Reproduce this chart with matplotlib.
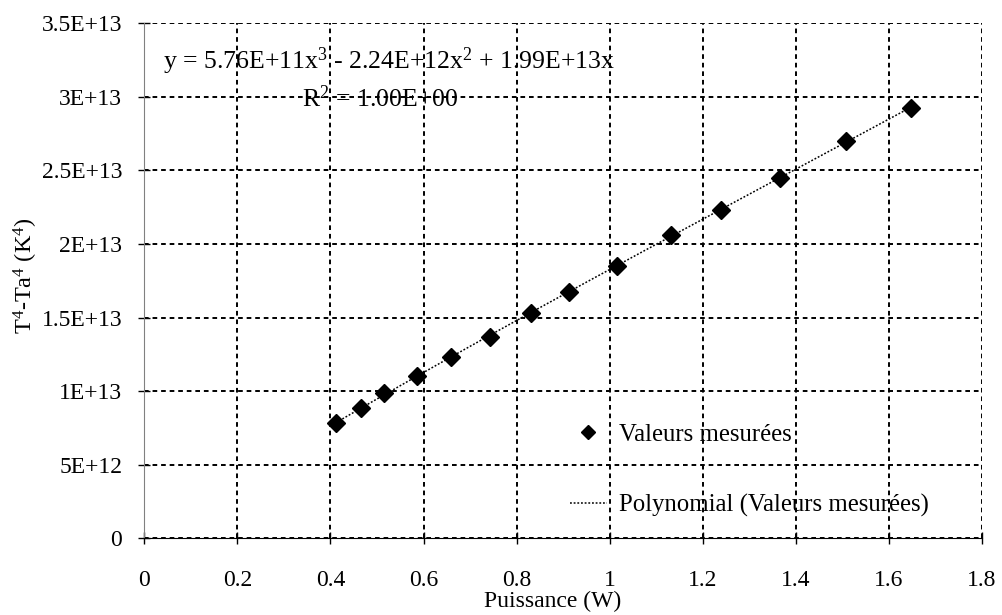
import numpy as np
import matplotlib
matplotlib.use("Agg")
import matplotlib.pyplot as plt

# ---- data ----
puissance = [0.412, 0.466, 0.515, 0.586, 0.659, 0.743, 0.832, 0.912,
             1.016, 1.132, 1.240, 1.366, 1.508, 1.647]
t4_ta4 = [0.784e13, 0.886e13, 0.987e13, 1.103e13, 1.232e13, 1.368e13, 1.533e13,
          1.676e13, 1.853e13, 2.061e13, 2.233e13, 2.449e13, 2.700e13, 2.924e13]
x_ticks = [0, 0.2, 0.4, 0.6, 0.8, 1.0, 1.2, 1.4, 1.6, 1.8]
x_tick_labels = ["0", "0.2", "0.4", "0.6", "0.8", "1", "1.2", "1.4", "1.6", "1.8"]
y_ticks = [0, 0.5e13, 1e13, 1.5e13, 2e13, 2.5e13, 3e13, 3.5e13]
y_tick_labels = ["0", "5E+12", "1E+13", "1.5E+13", "2E+13", "2.5E+13", "3E+13", "3.5E+13"]
eq_text = r"y = 5.76E+11x$^{3}$ - 2.24E+12x$^{2}$ + 1.99E+13x"
r2_text = r"R$^{2}$ = 1.00E+00"

plt.rcParams['font.family'] = ['Liberation Serif', 'DejaVu Serif']
plt.rcParams['mathtext.fontset'] = 'custom'
plt.rcParams['mathtext.rm'] = 'Liberation Serif'
plt.rcParams['mathtext.it'] = 'Liberation Serif:italic'
plt.rcParams['mathtext.default'] = 'rm'

fs = 17
fig = plt.figure(figsize=(10.02, 6.15), dpi=100)
ax = fig.add_axes([0.144, 0.1247, 0.836, 0.8374])

x = np.asarray(puissance)
y = np.asarray(t4_ta4)
# polynomial trendline (order 3, intercept 0) fitted to the data
A = np.column_stack([x**3, x**2, x])
coef, *_ = np.linalg.lstsq(A, y, rcond=None)
xf = np.linspace(x.min(), x.max(), 300)
yf = coef[0]*xf**3 + coef[1]*xf**2 + coef[2]*xf

ax.plot(x, y, linestyle='none', marker='D', markersize=9, color='black',
        label='Valeurs mesurées', zorder=4)
ax.plot(xf, yf, color='black', lw=1.1, linestyle=(0, (1.2, 1.2)),
        label='Polynomial (Valeurs mesurées)', zorder=3)

ax.set_xlim(0, 1.8)
ax.set_ylim(0, 3.5e13)
ax.set_xticks(x_ticks)
ax.set_xticklabels(x_tick_labels)
ax.set_yticks(y_ticks)
ax.set_yticklabels(y_tick_labels)
ax.tick_params(axis='both', direction='inout', length=8, width=1, labelsize=fs, colors='black')
ax.tick_params(axis='x', pad=19)
ax.tick_params(axis='y', pad=12)
ax.grid(True, color='black', lw=1.4, linestyle=(0, (2.4, 2.0)))
ax.set_axisbelow(True)
for s in ['top', 'right']:
    ax.spines[s].set_visible(False)
ax.spines['left'].set_color('#808080')
ax.spines['bottom'].set_color('black')

ax.set_xlabel('Puissance (W)', fontsize=fs, labelpad=0)
ax.xaxis.set_label_coords(0.488, -0.103)
ax.set_ylabel(r'T$^{4}$-Ta$^{4}$ (K$^{4}$)', fontsize=17.5)
ax.yaxis.set_label_coords(-0.124, 0.51)

ax.text(0.0225, 0.927, eq_text, transform=ax.transAxes, ha='left', va='center', fontsize=18.5, zorder=5)
ax.text(0.2815, 0.853, r2_text, transform=ax.transAxes, ha='center', va='center', fontsize=18.5, zorder=5)

leg = ax.legend(loc='center left', bbox_to_anchor=(0.508, 0.132), frameon=False,
                fontsize=17.8, borderpad=0, borderaxespad=0, handlelength=1.5,
                handletextpad=0.5, labelspacing=1.95, markerscale=0.78)

fig.savefig('out.png', dpi=100)
